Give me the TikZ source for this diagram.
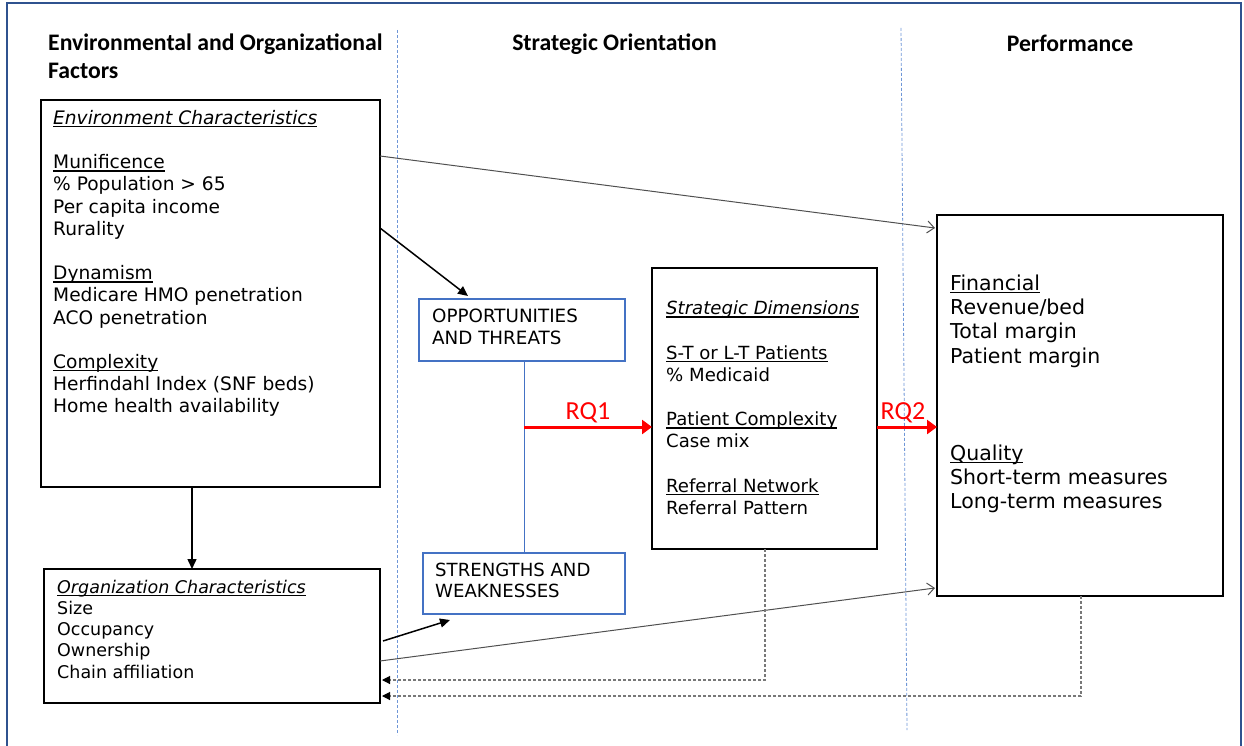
\documentclass[tikz,border=0pt]{standalone}
\usepackage{fontspec}
\setmainfont{DejaVu Sans}
\newfontfamily\headfont{Carlito}
\usetikzlibrary{arrows.meta,calc}

% underline drawn as a fixed rule just below the baseline
\newcommand\uln[1]{\setbox0\hbox{#1}\rlap{\vrule width \wd0 height -1.6pt depth 2.9pt}\box0}

\definecolor{frameblue}{RGB}{47,82,143}
\definecolor{boxblue}{RGB}{68,114,196}
\definecolor{guideblue}{RGB}{110,150,215}
\definecolor{linkgray}{RGB}{80,80,80}
\definecolor{backgray}{RGB}{120,120,120}
\definecolor{rqred}{RGB}{255,0,0}

\begin{document}
\begin{tikzpicture}[x=1pt,y=-1pt,
  box/.style={draw=black, line width=1.4pt, inner sep=0pt, outer sep=0pt, anchor=north west},
  bluebox/.style={draw=boxblue, line width=1.2pt, inner sep=0pt, outer sep=0pt, anchor=north west},
  body/.style={anchor=north west, inner sep=0pt, align=left},
  head/.style={inner sep=0pt, font=\headfont\bfseries\fontsize{23.7}{27.5}\selectfont},
  guide/.style={draw=guideblue, line width=0.8pt, dash pattern=on 3pt off 2pt},
  link/.style={draw=linkgray, line width=1pt, -{Straight Barb[length=7pt,width=12pt]}},
  push/.style={draw=black, line width=1.5pt, -{Triangle[length=10pt,width=9pt]}},
  rq/.style={draw=rqred, line width=3pt, -{Triangle[length=10pt,width=14pt]}},
  back/.style={draw=backgray, line width=1.1pt, dash pattern=on 3pt off 2pt,
    -{Triangle[length=8pt,width=8pt,color=black]}},
  rqlabel/.style={inner sep=0pt, anchor=base, text=rqred, font=\headfont\fontsize{26}{30}\selectfont}
]
\useasboundingbox (0,0) rectangle (1244,746);

% outer frame (open at the bottom edge of the page)
\draw[frameblue, line width=1.5pt] (7,760) -- (7,3) -- (1241,3) -- (1241,760);

% column separators
\coordinate (g1t) at (397,30);  \coordinate (g1b) at (397,735);
\coordinate (g2t) at (901,28);  \coordinate (g2b) at (907,730);
\draw[guide] (g1t) -- (g1b);
\draw[guide] (g2t) -- (g2b);

% column headings
\node[head, anchor=north west, align=left] (h1) at (48,31.5)
  {\strut Environmental and Organizational\\Factors};
\node[head, anchor=base] (h2) at (614.5,51) {Strategic Orientation};
\node[head, anchor=base] (h3) at (1070,51.5) {Performance};

% boxes
\node[box, minimum width=339pt, minimum height=387pt] (env) at (41,100) {};
\node[box, minimum width=336pt, minimum height=134pt] (org) at (44,569) {};
\node[bluebox, minimum width=206pt, minimum height=62pt] (opp) at (419,299) {};
\node[bluebox, minimum width=202pt, minimum height=61pt] (str) at (423,553) {};
\node[box, minimum width=225pt, minimum height=281pt] (dim) at (652,268) {};
\node[box, minimum width=286pt, minimum height=381pt] (perf) at (937,215) {};

% box contents
\node[body, font=\fontsize{18.6}{22.2}\selectfont] (envtxt) at (53,108.5) {\strut
  \uln{\itshape Environment Characteristics}\\[22.2pt]
  \uln{Munificence}\\
  \% Population > 65\\
  Per capita income\\
  Rurality\\[22.2pt]
  \uln{Dynamism}\\
  Medicare HMO penetration\\
  ACO penetration\\[22.2pt]
  \uln{Complexity}\\
  Herfindahl Index (SNF beds)\\
  Home health availability};

\node[body, font=\fontsize{17.5}{21.25}\selectfont] (orgtxt) at (57,578) {\strut
  \uln{\itshape Organization Characteristics}\\
  Size\\
  Occupancy\\
  Ownership\\
  Chain affiliation};

\node[body, font=\fontsize{18.3}{22}\selectfont] (opptxt) at (432,306.6) {\strut
  OPPORTUNITIES\\
  AND THREATS};

\node[body, font=\fontsize{18.1}{21}\selectfont] (strtxt) at (435,561.3) {\strut
  STRENGTHS AND\\
  WEAKNESSES};

\node[body, font=\fontsize{18.1}{22.2}\selectfont] (dimtxt) at (666,299) {\strut
  \uln{\itshape Strategic Dimensions}\\[22.2pt]
  \uln{S-T or L-T Patients}\\
  \% Medicaid\\[22.2pt]
  \uln{Patient Complexity}\\
  Case mix\\[22.2pt]
  \uln{Referral Network}\\
  Referral Pattern};

\node[body, font=\fontsize{20.5}{24.3}\selectfont] (perftxt) at (950,273) {\strut
  \uln{Financial}\\
  Revenue/bed\\
  Total margin\\
  Patient margin\\[72.9pt]
  \uln{Quality}\\
  Short-term measures\\
  Long-term measures};

% connectors
\draw[link] ($(env.north east)+(0,56)$) -- ($(perf.north west)+(-2,13)$);
\draw[push] ($(env.north east)+(0,128)$) -- ($(opp.north west)+(49,-3)$);
\draw[push] ($(env.south west)+(151,0)$) -- ($(org.north west)+(148,0)$);
\draw[push] ($(org.north east)+(3,72)$) -- ($(str.south west)+(27,6)$);
\draw[link] ($(org.north east)+(0,92)$) -- ($(perf.south west)+(-2,-8)$);

\draw[draw=boxblue, line width=0.8pt] ($(opp.south west)+(105,0)$) -- ($(str.north west)+(101,0)$);

\draw[rq] ($(dim.north west)+(-128,159)$) -- ($(dim.north west)+(0,159)$);
\node[rqlabel] (rq1) at (588,419) {RQ1};
\draw[rq] ($(dim.north east)+(0,159)$) -- ($(perf.north west)+(0,212)$);
\node[rqlabel] (rq2) at (903,419) {RQ2};

% feedback paths
\draw[back] ($(dim.south west)+(113,0)$) |- ($(org.north east)+(2,111)$);
\draw[back] ($(perf.south west)+(144,0)$) |- ($(org.north east)+(2,127)$);
\end{tikzpicture}
\end{document}
